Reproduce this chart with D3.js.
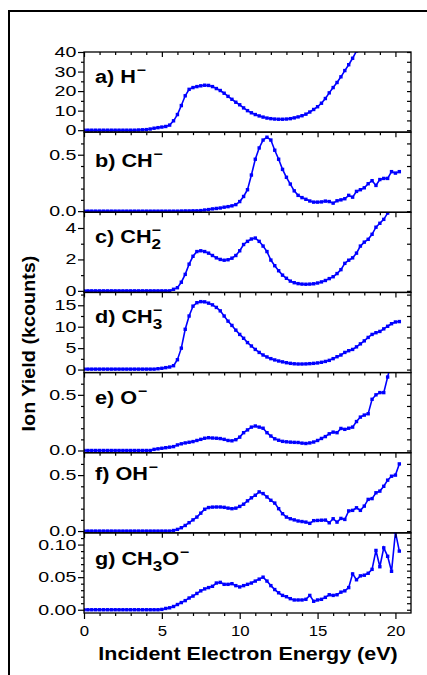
<!DOCTYPE html>
<html>
<head>
<meta charset="utf-8">
<script src="https://cdn.jsdelivr.net/npm/d3@7"></script>
<style>
  body { margin: 0; background: #fff; }
  svg { display: block; }
  text { font-family: "Liberation Sans", Arial, sans-serif; }
</style>
</head>
<body>
<div id="chart"></div>
<script>
// Incident electron energy (eV), one point every 0.25 eV
const energy = [0,0.25,0.5,0.75,1,1.25,1.5,1.75,2,2.25,2.5,2.75,3,3.25,3.5,3.75,4,4.25,4.5,4.75,
  5,5.25,5.5,5.75,6,6.25,6.5,6.75,7,7.25,7.5,7.75,8,8.25,8.5,8.75,9,9.25,9.5,9.75,
  10,10.25,10.5,10.75,11,11.25,11.5,11.75,12,12.25,12.5,12.75,13,13.25,13.5,13.75,14,14.25,14.5,14.75,
  15,15.25,15.5,15.75,16,16.25,16.5,16.75,17,17.25,17.5,17.75,18,18.25,18.5,18.75,19,19.25,19.5,19.75,20,20.25];

// Ion yields (kcounts)
const yieldH = [0,0,0,0,0,0,0,0,0,0,0,0,0,0,0.1,0.2,
  0.3,0.6,1.0,1.3,1.6,1.9,2.6,4.8,8.0,12.6,17.6,20.9,21.8,22.3,22.7,23.0,22.9,22.3,21.3,20.3,
  18.9,17.3,15.8,14.3,13.0,11.4,10.0,8.9,8.0,7.3,6.7,6.2,5.9,5.7,5.6,5.6,5.7,5.9,6.3,6.8,
  7.4,8.2,9.3,10.6,12.0,13.8,16.2,19.1,21.8,24.4,27.3,30.5,33.5,36.8,40.5];
const yieldCH = [0,0,0,0,0,0,0,0,0,0,0,0,0,0,0,0,0,0,0,0,0,0,0,0,0,0.001,0.002,0.002,0.003,
  0.003,0.005,0.01,0.014,0.02,0.024,0.028,0.035,0.04,0.047,0.058,0.085,0.13,0.19,0.32,
  0.46,0.56,0.63,0.655,0.63,0.54,0.46,0.37,0.3,0.24,0.18,0.14,0.12,0.105,0.09,
  0.08,0.08,0.082,0.089,0.085,0.071,0.092,0.1,0.11,0.14,0.124,0.175,0.19,0.207,0.243,
  0.27,0.228,0.28,0.29,0.29,0.35,0.337,0.35];
const yieldCH2 = [0,0,0,0,0,0,0,0,0,0,0,0,0,0,0,0,0,0,0,0,0,0,0,
  0.1,0.2,0.55,1.05,1.7,2.2,2.5,2.55,2.5,2.4,2.25,2.1,2.0,1.95,1.98,2.08,2.25,2.55,2.95,3.15,
  3.3,3.36,3.15,2.85,2.5,1.96,1.6,1.28,1.0,0.8,0.62,0.52,0.46,0.43,0.42,0.43,0.45,0.5,0.57,0.66,
  0.78,0.9,1.1,1.35,1.75,1.95,2.1,2.4,2.85,3.1,3.28,3.6,4.05,4.3,4.55,4.95,5.3];
const yieldCH3 = [0.1,0.1,0.1,0.1,0.1,0.1,0.1,0.1,0.1,0.1,0.1,0.1,0.1,0.1,0.1,0.1,0.1,0.1,0.1,
  0.2,0.3,0.45,0.6,0.9,2.3,5.0,9.4,12.5,14.8,15.6,15.85,15.8,15.5,15.1,14.5,13.7,12.5,11.3,10.3,
  9.2,8.2,7.3,6.3,5.5,4.7,4.0,3.4,2.95,2.55,2.25,2.0,1.8,1.6,1.45,1.35,1.3,1.3,1.32,1.38,
  1.45,1.55,1.7,1.9,2.15,2.55,3.0,3.4,4.0,4.4,4.7,5.3,6.0,6.7,7.5,8.2,8.6,8.9,9.5,10.1,
  10.7,11.1,11.2];
const yieldO = [0,0,0,0,0,0,0,0,0,0,0,0,0,0,0,0,0,0,
  0.01,0.015,0.02,0.025,0.03,0.035,0.05,0.06,0.068,0.074,0.08,0.09,0.1,0.11,0.115,
  0.112,0.11,0.107,0.1,0.09,0.087,0.097,0.12,0.16,0.185,0.21,0.22,0.21,0.2,0.16,
  0.13,0.105,0.092,0.082,0.078,0.075,0.073,0.072,0.066,0.063,0.068,0.076,0.09,0.108,0.125,
  0.15,0.165,0.16,0.198,0.19,0.2,0.21,0.26,0.3,0.318,0.33,0.46,0.5,0.52,0.52,0.66,0.8];
const yieldOH = [0,0,0,0,0,0,0,0,0,0,0,0,0,0,0,0,0,0,0,0,0,0,0,
  0.005,0.015,0.03,0.05,0.075,0.1,0.125,0.16,0.195,0.21,0.214,0.215,0.215,0.212,0.205,
  0.2,0.205,0.22,0.24,0.27,0.297,0.32,0.35,0.335,0.305,0.275,0.25,0.2,0.155,0.125,
  0.11,0.1,0.09,0.085,0.08,0.069,0.093,0.095,0.097,0.098,0.074,0.11,0.08,0.113,0.104,
  0.18,0.185,0.208,0.185,0.223,0.283,0.29,0.342,0.357,0.4,0.455,0.49,0.5,0.6];
const yieldCH3O = [0,0,0,0,0,0,0,0,0,0,0,0,0,0,0,0,0,0,0,0,
  0.0005,0.002,0.003,0.005,0.008,0.011,0.014,0.018,0.021,0.025,0.029,0.032,0.034,0.036,0.041,
  0.042,0.039,0.039,0.040,0.037,0.035,0.037,0.039,0.041,0.044,0.047,0.05,0.044,0.037,0.031,
  0.026,0.022,0.02,0.017,0.015,0.015,0.015,0.016,0.022,0.013,0.015,0.016,0.019,0.023,0.022,
  0.023,0.027,0.029,0.034,0.055,0.046,0.052,0.053,0.056,0.062,0.091,0.066,0.095,0.082,0.059,
  0.119,0.09];

const series = [yieldH, yieldCH, yieldCH2, yieldCH3, yieldO, yieldOH, yieldCH3O];

// panel labels: [text, kind]
const labelParts = [
  [["a) H", ""], ["\u2212", "sup"]],
  [["b) CH", ""], ["\u2212", "sup"]],
  [["c) CH", ""], ["2", "sub"], ["\u2212", "supOver"]],
  [["d) CH", ""], ["3", "sub"], ["\u2212", "supOver"]],
  [["e) O", ""], ["\u2212", "sup"]],
  [["f) OH", ""], ["\u2212", "sup"]],
  [["g) CH", ""], ["3", "sub"], ["O", "after"], ["\u2212", "sup"]]
];

// y axes
const yDomains = [[-1, 40], [-0.01, 0.7], [-0.1, 5], [-0.7, 18], [-0.02, 0.7], [-0.016, 0.7], [-0.005, 0.118]];
const yMajor = [[0, 10, 20, 30, 40], [0, 0.5], [0, 2, 4], [0, 5, 10, 15], [0, 0.5], [0, 0.5], [0, 0.05, 0.1]];
const yMinor = [
  [5, 15, 25, 35],
  [0.1, 0.2, 0.3, 0.4, 0.6],
  [1, 3],
  [2.5, 7.5, 12.5, 17.5],
  [0.1, 0.2, 0.3, 0.4, 0.6],
  [0.1, 0.2, 0.3, 0.4, 0.6],
  [0.01, 0.02, 0.03, 0.04, 0.06, 0.07, 0.08, 0.09, 0.11]
];
const yFormats = ["d", ".1f", "d", "d", ".1f", ".1f", ".2f"];

// x axis
const xDomain = [0, 21];
const xMajor = [0, 5, 10, 15, 20];
const xMinor = [1, 2, 3, 4, 6, 7, 8, 9, 11, 12, 13, 14, 16, 17, 18, 19];

const W = 427, H = 675;
const plotLeft = 84, plotRight = 411, plotTop = 52, plotBottom = 613;
const ph = (plotBottom - plotTop) / series.length;
const labelDy = [31.3, 34.6, 31, 31, 31.7, 27.3, 32.1];
const blue = "#0000ff";

const svg = d3.select("#chart").append("svg")
  .attr("width", W)
  .attr("height", H);

// outer frame (right and bottom run off the picture)
svg.append("rect")
  .attr("x", 9).attr("y", 11)
  .attr("width", 440).attr("height", 700)
  .attr("fill", "none")
  .attr("stroke", "#000")
  .attr("stroke-width", 2);

const x = d3.scaleLinear().domain(xDomain).range([plotLeft, plotRight]);

series.forEach((vals, i) => {
  const pTop = plotTop + i * ph;
  const pBot = pTop + ph;
  const y = d3.scaleLinear().domain(yDomains[i]).range([pBot, pTop]);
  const pts = vals.map((v, k) => [energy[k], v]);

  const g = svg.append("g").attr("class", "panel");

  g.append("clipPath").attr("id", "clip" + i)
    .append("rect")
    .attr("x", plotLeft).attr("y", pTop)
    .attr("width", plotRight - plotLeft).attr("height", ph);

  const data = g.append("g").attr("clip-path", `url(#clip${i})`);

  data.append("path")
    .datum(pts)
    .attr("fill", "none")
    .attr("stroke", blue)
    .attr("stroke-width", 1.6)
    .attr("d", d3.line().x(d => x(d[0])).y(d => y(d[1])));

  data.selectAll("rect.pt")
    .data(pts)
    .join("rect")
    .attr("class", "pt")
    .attr("x", d => x(d[0]) - 1.7)
    .attr("y", d => y(d[1]) - 1.7)
    .attr("width", 3.4)
    .attr("height", 3.4)
    .attr("fill", blue);

  // frame of the panel
  g.append("rect")
    .attr("x", plotLeft).attr("y", pTop)
    .attr("width", plotRight - plotLeft).attr("height", ph)
    .attr("fill", "none")
    .attr("stroke", "#000")
    .attr("stroke-width", 1.3);

  // left axis, ticks outward
  g.append("g").attr("transform", `translate(${plotLeft},0)`)
    .call(d3.axisLeft(y).tickValues(yMajor[i]).tickFormat(d3.format(yFormats[i]))
      .tickSizeInner(6).tickSizeOuter(0))
    .call(s => s.select(".domain").remove())
    .call(s => s.selectAll(".tick line").attr("stroke-width", 1.2))
    .call(s => s.selectAll(".tick text")
      .attr("x", -7.6 / 1.4)
      .attr("transform", "scale(1.4,1)")
      .attr("fill", "#000")
      .style("font-size", "14px")
      .style("font-family", "'Liberation Sans', Arial, sans-serif"));
  g.append("g").attr("transform", `translate(${plotLeft},0)`)
    .call(d3.axisLeft(y).tickValues(yMinor[i]).tickFormat("").tickSizeInner(3).tickSizeOuter(0))
    .call(s => s.select(".domain").remove())
    .call(s => s.selectAll(".tick line").attr("stroke-width", 1.2));

  // right axis, ticks inward
  g.append("g").attr("transform", `translate(${plotRight},0)`)
    .call(d3.axisRight(y).tickValues(yMajor[i].concat(yMinor[i])).tickFormat("")
      .tickSizeInner(-4).tickSizeOuter(0))
    .call(s => s.select(".domain").remove())
    .call(s => s.selectAll(".tick line").attr("stroke-width", 1.2));

  // top axis of every panel, ticks inward
  g.append("g").attr("transform", `translate(0,${pTop})`)
    .call(d3.axisBottom(x).tickValues(xMajor).tickFormat("").tickSizeInner(5).tickSizeOuter(0))
    .call(s => s.select(".domain").remove())
    .call(s => s.selectAll(".tick line").attr("stroke-width", 1.2));
  g.append("g").attr("transform", `translate(0,${pTop})`)
    .call(d3.axisBottom(x).tickValues(xMinor).tickFormat("").tickSizeInner(3).tickSizeOuter(0))
    .call(s => s.select(".domain").remove())
    .call(s => s.selectAll(".tick line").attr("stroke-width", 1.2));

  // panel label
  const lab = g.append("text")
    .attr("transform", `translate(95,${pTop + labelDy[i]}) scale(1.14,1)`)
    .attr("font-weight", "bold")
    .style("font-size", "19px")
    .attr("fill", "#000");
  labelParts[i].forEach(([t, kind]) => {
    const ts = lab.append("tspan").text(t);
    if (kind === "sub") {
      ts.attr("y", 6).style("font-size", "15px");
    } else if (kind === "sup" || kind === "supOver") {
      ts.attr("y", -8).style("font-size", "14px");
      if (kind === "supOver") ts.attr("dx", -8.3);
      else ts.attr("dx", 0.5);
    } else {
      ts.attr("y", 0);
    }
  });
});

// bottom axis with labels
svg.append("g").attr("transform", `translate(0,${plotBottom})`)
  .call(d3.axisBottom(x).tickValues(xMajor).tickFormat(d3.format("d")).tickSizeInner(6).tickSizeOuter(0))
  .call(s => s.select(".domain").remove())
  .call(s => s.selectAll(".tick line").attr("stroke-width", 1.2))
  .call(s => s.selectAll(".tick text")
    .attr("y", 23).attr("dy", 0)
    .attr("transform", "scale(1.12,1)")
    .attr("fill", "#000")
    .style("font-size", "15px")
    .style("font-family", "'Liberation Sans', Arial, sans-serif"));
svg.append("g").attr("transform", `translate(0,${plotBottom})`)
  .call(d3.axisBottom(x).tickValues(xMinor).tickFormat("").tickSizeInner(3).tickSizeOuter(0))
  .call(s => s.select(".domain").remove())
  .call(s => s.selectAll(".tick line").attr("stroke-width", 1.2));

// axis titles
svg.append("text")
  .attr("transform", "translate(248,660) scale(1.13,1)")
  .attr("text-anchor", "middle")
  .attr("font-weight", "bold")
  .style("font-size", "19px")
  .text("Incident Electron Energy (eV)");

svg.append("text")
  .attr("transform", "translate(35,343.5) rotate(-90) scale(1.1,1)")
  .attr("text-anchor", "middle")
  .attr("font-weight", "bold")
  .style("font-size", "18px")
  .text("Ion Yield (kcounts)");
</script>
</body>
</html>
